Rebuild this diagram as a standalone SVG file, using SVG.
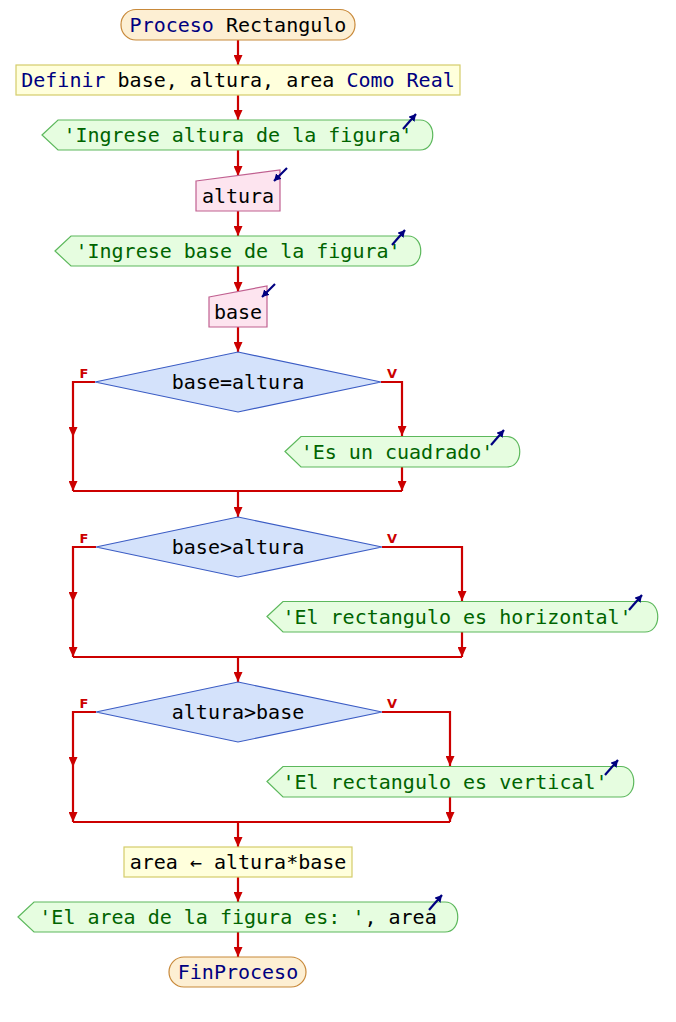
<svg xmlns="http://www.w3.org/2000/svg" width="676" height="1022" viewBox="0 0 676 1022">
<defs>
<marker id="ah" markerUnits="userSpaceOnUse" markerWidth="11" markerHeight="9" refX="10" refY="4.5" orient="auto"><path d="M0,0 L10,4.5 L0,9 Z" fill="#cc0000"/></marker>
<marker id="ih" markerUnits="userSpaceOnUse" markerWidth="8" markerHeight="8" refX="7" refY="4" orient="auto"><path d="M0,0 L7,4 L0,8 Z" fill="#000080"/></marker>
<style>
text{font-family:"DejaVu Sans Mono","Liberation Mono",monospace;font-size:20px;text-anchor:middle}
.kw{fill:#000080}
.st{fill:#006400}
.vr{fill:#000000}
.lbl{font-family:"DejaVu Sans","Liberation Sans",sans-serif;font-size:13px;font-weight:bold;fill:#cc0000}
.term{fill:#fdefd3;stroke:#c8893a;stroke-width:1.2}
.proc{fill:#ffffdc;stroke:#d4cc6a;stroke-width:1.2}
.out{fill:#e6fde0;stroke:#5cb85c;stroke-width:1.2}
.inp{fill:#fde4ef;stroke:#c06090;stroke-width:1.2}
.dec{fill:#d4e2fb;stroke:#3b5cc4;stroke-width:1.2}
.ic{stroke:#000080;stroke-width:2.2;fill:none;marker-end:url(#ih)}
.cn path{stroke:#cc0000;stroke-width:2.2;fill:none}
.cn .a{marker-end:url(#ah)}
</style>
</defs>

<g class="cn" id="connectors">
<path class="a" d="M238,40 L238,65"/>
<path class="a" d="M238,95 L238,120"/>
<path class="a" d="M238,150 L238,176"/>
<path class="a" d="M238,211 L238,236"/>
<path class="a" d="M238,266 L238,292"/>
<path class="a" d="M238,327 L238,352"/>
<path class="a" d="M95,382 L73,382 L73,437"/>
<path class="a" d="M73,437 L73,491"/>
<path class="a" d="M381,382 L402,382 L402,436"/>
<path class="a" d="M402,467 L402,491"/>
<path d="M73,491 L402,491"/>
<path class="a" d="M238,491 L238,517"/>
<path class="a" d="M96,547 L73,547 L73,602"/>
<path class="a" d="M73,602 L73,657"/>
<path class="a" d="M382,547 L462,547 L462,601"/>
<path class="a" d="M462,632 L462,657"/>
<path d="M73,657 L462,657"/>
<path class="a" d="M238,657 L238,682"/>
<path class="a" d="M96,712 L73,712 L73,767"/>
<path class="a" d="M73,767 L73,822"/>
<path class="a" d="M382,712 L450,712 L450,766"/>
<path class="a" d="M450,797 L450,822"/>
<path d="M73,822 L450,822"/>
<path class="a" d="M238,822 L238,847"/>
<path class="a" d="M238,877 L238,902"/>
<path class="a" d="M238,932 L238,957"/>
<text class="lbl" x="84" y="378">F</text>
<text class="lbl" x="392" y="378">V</text>
<text class="lbl" x="84" y="543">F</text>
<text class="lbl" x="392" y="543">V</text>
<text class="lbl" x="84" y="708">F</text>
<text class="lbl" x="392" y="708">V</text>
</g>

<g id="start">
<rect class="term" x="121" y="9.5" width="234" height="30.5" rx="15" ry="15"/>
<text x="238" y="31.5"><tspan class="kw">Proceso</tspan> <tspan class="vr">Rectangulo</tspan></text>
</g>

<g id="define">
<rect class="proc" x="16" y="65" width="444" height="30"/>
<text x="238" y="87"><tspan class="kw">Definir</tspan> <tspan class="vr">base, altura, area</tspan> <tspan class="kw">Como Real</tspan></text>
</g>

<g id="out1">
<path class="out" d="M42,135 L58,120 L420,120 C437,120 437,150 420,150 L58,150 Z"/>
<text class="st" x="238" y="142">'Ingrese altura de la figura'</text>
<path class="ic" d="M403,129 L416,114"/>
</g>

<g id="in-altura">
<path class="inp" d="M196,181 L280,170 L280,211 L196,211 Z"/>
<text class="vr" x="238" y="203">altura</text>
<path class="ic" d="M287,168 L274,181"/>
</g>

<g id="out2">
<path class="out" d="M55,251 L71,236 L408,236 C425,236 425,266 408,266 L71,266 Z"/>
<text class="st" x="238" y="258">'Ingrese base de la figura'</text>
<path class="ic" d="M392,245 L405,230"/>
</g>

<g id="in-base">
<path class="inp" d="M209,297 L267,286 L267,327 L209,327 Z"/>
<text class="vr" x="238" y="319">base</text>
<path class="ic" d="M275,284 L262,297"/>
</g>

<g id="dec1">
<path class="dec" d="M238,352 L381,382 L238,412 L95,382 Z"/>
<text class="vr" x="238" y="389">base=altura</text>
</g>

<g id="out3">
<path class="out" d="M285,451.5 L301,436.5 L507,436.5 C524,436.5 524,467 507,467 L301,467 Z"/>
<text class="st" x="397" y="459">'Es un cuadrado'</text>
<path class="ic" d="M491,445 L504,430"/>
</g>

<g id="dec2">
<path class="dec" d="M238,517 L382,547 L238,577 L96,547 Z"/>
<text class="vr" x="238" y="554">base&gt;altura</text>
</g>

<g id="out4">
<path class="out" d="M267,616.5 L283,601.5 L645,601.5 C662,601.5 662,632 645,632 L283,632 Z"/>
<text class="st" x="457" y="624">'El rectangulo es horizontal'</text>
<path class="ic" d="M629,610 L642,595"/>
</g>

<g id="dec3">
<path class="dec" d="M238,682 L382,712 L238,742 L96,712 Z"/>
<text class="vr" x="238" y="719">altura&gt;base</text>
</g>

<g id="out5">
<path class="out" d="M267,781.5 L283,766.5 L621,766.5 C638,766.5 638,797 621,797 L283,797 Z"/>
<text class="st" x="445" y="789">'El rectangulo es vertical'</text>
<path class="ic" d="M605,775 L618,760"/>
</g>

<g id="assign">
<rect class="proc" x="124" y="847" width="228" height="30"/>
<text class="vr" x="238" y="869">area ← altura*base</text>
</g>

<g id="out6">
<path class="out" d="M18,917 L34,902 L445,902 C462,902 462,932 445,932 L34,932 Z"/>
<text x="238" y="924"><tspan class="st">'El area de la figura es: '</tspan><tspan class="vr">, area</tspan></text>
<path class="ic" d="M429,910 L442,895"/>
</g>

<g id="end">
<rect class="term" x="169" y="957" width="137" height="30" rx="15" ry="15"/>
<text class="kw" x="238" y="979">FinProceso</text>
</g>
</svg>
